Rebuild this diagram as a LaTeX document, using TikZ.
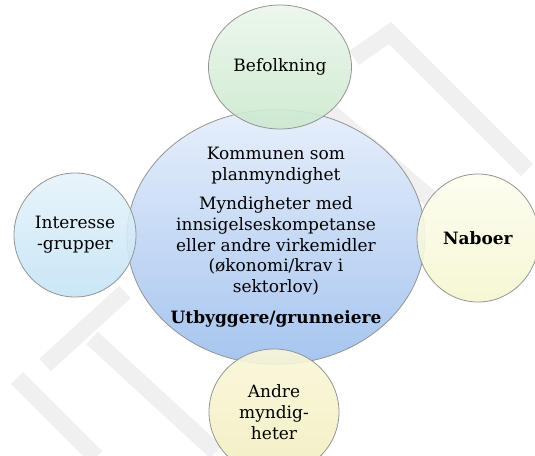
\documentclass[tikz,border=0pt]{standalone}
\usepackage{fontspec}
\setmainfont{DejaVu Serif}
\usepackage{tikz}
\usetikzlibrary{shapes.geometric}

\definecolor{grontopp}{HTML}{EBF6EB}
\definecolor{gronbunn}{HTML}{CBE8CE}
\definecolor{blaatopp}{HTML}{E7EFFB}
\definecolor{blaabunn}{HTML}{A6C5EF}
\definecolor{lysblaatopp}{HTML}{E6F3FB}
\definecolor{lysblaabunn}{HTML}{C4E3F5}
\definecolor{gultopp}{HTML}{FDFDF0}
\definecolor{gulbunn}{HTML}{F5F6CF}
\definecolor{okertopp}{HTML}{F9F7D8}
\definecolor{okerbunn}{HTML}{F1EEBF}

\begin{document}
\begin{tikzpicture}[x=1pt,y=-1pt,
	sirkel/.style={ellipse,draw=black!42,line width=0.8pt,align=center,inner sep=0pt,
		font=\fontsize{17}{20.7}\selectfont},
	satellitt/.style={sirkel,fill opacity=0.9,text opacity=1},
	merke/.style={draw=black!6,line width=17pt}]
		\useasboundingbox (0,0) rectangle (535,455);
		\clip (0,0) rectangle (535,455);
		\draw[merke] (354,58)--(390,33)--(527,170);
		\draw[merke] (330,112)--(432,200);
		\draw[merke] (45,365)--(125,292);
		\draw[merke] (92,338)--(216,452);
		\draw[merke] (17,378)--(96,457);
		\node[sirkel,minimum width=292pt,minimum height=234pt,top color=blaatopp,bottom color=blaabunn] (kommune) at (276,237)
			{Kommunen som\\planmyndighet\\[9pt]Myndigheter med\\innsigelseskompetanse\\eller andre virkemidler\\(økonomi/krav i\\sektorlov)\\[10pt]\textbf{Utbyggere/grunneiere}};
		\node[satellitt,minimum width=143pt,minimum height=124pt,top color=grontopp,bottom color=gronbunn] (befolkning) at (280,67) {Befolkning};
		\node[satellitt,minimum width=122pt,minimum height=124pt,top color=lysblaatopp,bottom color=lysblaabunn] (interesse) at (75,235) {Interesse\\-grupper};
		\node[satellitt,minimum width=122pt,minimum height=128pt,top color=gultopp,bottom color=gulbunn] (naboer) at (478,238) {\textbf{Naboer}};
		\node[satellitt,minimum width=130pt,minimum height=126pt,top color=okertopp,bottom color=okerbunn] (andre) at (274,412) {Andre\\myndig-\\heter};
\end{tikzpicture}
\end{document}
